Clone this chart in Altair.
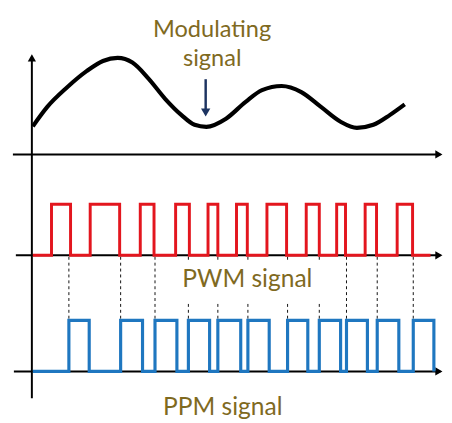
import altair as alt
import pandas as pd

# ---------------- data (time in ms, signal levels in pulse-height units) ----------------
mod_t = [0.10, 1.57, 3.57, 5.57, 7.24, 8.74, 10.24, 11.90, 13.57, 15.24, 16.57, 17.77,
         19.77, 21.77, 23.44, 25.44, 27.44, 29.44, 31.44, 33.10, 34.77, 36.44, 37.97]
mod_v = [0.55, 0.93, 1.31, 1.63, 1.83, 1.89, 1.80, 1.48, 1.09, 0.77, 0.58, 0.54,
         0.70, 1.03, 1.26, 1.34, 1.22, 0.93, 0.64, 0.52, 0.58, 0.77, 0.98]

pwm_rise = [2.00, 5.94, 11.04, 14.64, 17.94, 20.84, 23.94, 27.94, 31.04, 33.94, 37.20]
pwm_fall = [3.94, 8.94, 12.44, 16.04, 18.94, 21.94, 25.94, 29.27, 31.94, 35.10, 38.77]

ppm_rise = [3.77, 9.04, 12.54, 15.94, 18.94, 22.00, 26.04, 29.27, 32.04, 35.17, 38.84]
ppm_fall = [5.84, 11.27, 14.77, 18.10, 21.27, 24.17, 28.10, 31.44, 34.17, 37.37, 40.94]

t_start = 0.10
pwm_end = 40.60
ppm_end = 40.94

labels = ["Modulating", "signal", "PWM signal", "PPM signal"]

# ---------------- layout ----------------
PPM_BASE, PWM_BASE, MOD_BASE = 0.0, 2.275, 4.25
X_DOM = [-2.43, 41.97]
Y_DOM = [-0.9365, 7.0442]
W, H = 444, 415
OLIVE = "#7f6a1f"
RED = "#e3161e"
BLUE = "#1f77c0"
NAVY = "#1d3461"
FONT = "Lato"

xs = alt.Scale(domain=X_DOM, nice=False, zero=False)
ys = alt.Scale(domain=Y_DOM, nice=False, zero=False)


def X(f):
    return alt.X(f, type="quantitative", scale=xs, axis=None)


def Y(f):
    return alt.Y(f, type="quantitative", scale=ys, axis=None)


def pulse_train(rises, falls, start, end, base):
    rows = [(start, base)]
    for r, f in zip(rises, falls):
        rows += [(r, base), (r, base + 1), (f, base + 1), (f, base)]
    rows.append((end, base))
    return pd.DataFrame({"t": [p[0] for p in rows], "y": [p[1] for p in rows],
                         "i": list(range(len(rows)))})


pwm_df = pulse_train(pwm_rise, pwm_fall, t_start, pwm_end, PWM_BASE)
ppm_df = pulse_train(ppm_rise, ppm_fall, t_start, ppm_end, PPM_BASE)
mod_df = pd.DataFrame({"t": mod_t, "y": [MOD_BASE + v for v in mod_v], "i": range(len(mod_t))})

# axes
h_axes = pd.DataFrame({"x0": [-1.93, -1.63, -1.83], "x1": [41.6, 41.6, 41.6],
                       "y": [MOD_BASE, PWM_BASE, PPM_BASE]})
v_axis = pd.DataFrame({"x": [0.0], "y0": [-0.527], "y1": [6.10]})
h_heads = pd.DataFrame({"x": [41.45] * 3, "y": [MOD_BASE, PWM_BASE, PPM_BASE]})
v_head = pd.DataFrame({"x": [0.0], "y": [6.14]})

axes_rule = alt.Chart(h_axes).mark_rule(color="black", strokeWidth=2).encode(
    x=X("x0"), x2="x1", y=Y("y"))
vaxis_rule = alt.Chart(v_axis).mark_rule(color="black", strokeWidth=2).encode(
    x=X("x"), y=Y("y0"), y2="y1")
hheads = alt.Chart(h_heads).mark_point(shape="triangle-right", filled=True, size=70,
                                       color="black", opacity=1, strokeWidth=0).encode(
    x=X("x"), y=Y("y"))
vhead = alt.Chart(v_head).mark_point(shape="triangle-up", filled=True, size=70,
                                     color="black", opacity=1, strokeWidth=0).encode(
    x=X("x"), y=Y("y"))

# dashed guide lines (PWM trailing edge -> PPM leading edge)
dash_df = pd.DataFrame({"x": ppm_rise, "y0": [PWM_BASE - 0.03] * len(ppm_rise),
                        "y1": [PPM_BASE + 1.0] * len(ppm_rise)})
dashes = alt.Chart(dash_df).mark_rule(color="#111111", strokeWidth=1, strokeDash=[3, 3]).encode(
    x=X("x"), y=Y("y0"), y2="y1")

# label backdrop for PWM label
bg_df = pd.DataFrame({"x0": [15.07], "x1": [29.77], "y0": [1.352], "y1": [2.16]})
backdrop = alt.Chart(bg_df).mark_rect(color="white").encode(
    x=X("x0"), x2="x1", y=Y("y0"), y2="y1")

pwm_line = alt.Chart(pwm_df).mark_line(color=RED, strokeWidth=3, strokeJoin="miter").encode(
    x=X("t"), y=Y("y"), order="i:Q")
ppm_line = alt.Chart(ppm_df).mark_line(color=BLUE, strokeWidth=3.2, strokeJoin="miter").encode(
    x=X("t"), y=Y("y"), order="i:Q")
mod_line = alt.Chart(mod_df).mark_line(color="black", strokeWidth=4.2, interpolate="monotone").encode(
    x=X("t"), y=Y("y"), order="i:Q")

# modulating-signal pointer arrow
arr_df = pd.DataFrame({"x": [17.70], "y0": [5.723], "y1": [5.12]})
arr_line = alt.Chart(arr_df).mark_rule(color=NAVY, strokeWidth=2.5).encode(
    x=X("x"), y=Y("y0"), y2="y1")
arr_head = alt.Chart(pd.DataFrame({"x": [17.70], "y": [5.07]})).mark_point(
    shape="triangle-down", filled=True, size=90, color=NAVY, opacity=1, strokeWidth=0).encode(
    x=X("x"), y=Y("y"))

text_df = pd.DataFrame({"label": labels,
                        "x": [18.35, 18.37, 21.94, 19.44],
                        "y": [6.558, 5.98, 1.654, -0.86],
                        "fs": [24, 24, 25, 25]})
texts = alt.Chart(text_df).mark_text(font=FONT, color=OLIVE, align="center",
                                     baseline="alphabetic").encode(
    x=X("x"), y=Y("y"), text="label:N",
    size=alt.Size("fs:Q", scale=None, legend=None))

chart = alt.layer(
    axes_rule, vaxis_rule, hheads, vhead, dashes, backdrop,
    pwm_line, ppm_line, mod_line, arr_line, arr_head, texts
).properties(
    width=W, height=H, autosize=alt.AutoSizeParams(type="none"), padding=0,
    background="white"
).configure_view(stroke=None)

chart.save("out.html", embed_options={"renderer": "svg", "actions": False})
